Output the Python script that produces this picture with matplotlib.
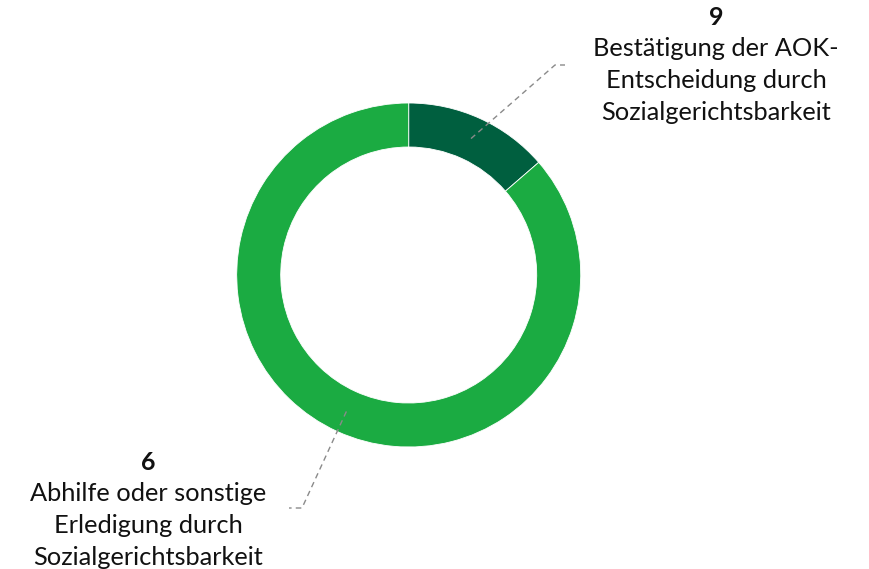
import numpy as np
import matplotlib.pyplot as plt

# slice sizes (dark slice ~49 deg of 360)
sizes = [9, 57]
numbers = ['9', '6']
labels = ['Bestätigung der AOK-\nEntscheidung durch\nSozialgerichtsbarkeit',
          'Abhilfe oder sonstige\nErledigung durch\nSozialgerichtsbarkeit']
colors = ['#005F3F', '#1BAB42']

W, H = 869, 569
fig = plt.figure(figsize=(W / 100, H / 100), dpi=100)
ax = fig.add_axes([0, 0, 1, 1])

cx, cy, r = 408.7, H - 275, 172
wedges, _ = ax.pie(sizes, colors=colors, startangle=90, counterclock=False,
                   radius=r, center=(cx, cy),
                   wedgeprops=dict(width=44, edgecolor='white', linewidth=0.6))
ax.set_xlim(0, W)
ax.set_ylim(0, H)
ax.set_aspect('equal')
ax.axis('off')

# label layout: text centre, elbow of leader, end of leader
text_pos = [(716, H - 17), (148, H - 462)]
elbows = [((555, H - 65), (565, H - 65)), ((302, H - 508), (289, H - 508))]

for w, num, lab, (tx, ty), (e1, e2) in zip(wedges, numbers, labels, text_pos, elbows):
    mid = np.deg2rad((w.theta1 + w.theta2) / 2)
    sx = cx + 150 * np.cos(mid)
    sy = cy + 150 * np.sin(mid)
    ax.plot([sx, e1[0], e2[0]], [sy, e1[1], e2[1]], color='#8a8a8a',
            lw=1, ls=(0, (4, 3)))
    ax.text(tx, ty, num, ha='center', va='center', fontsize=18,
            fontweight='bold', family='Lato', color='#111111')
    ax.text(tx, ty - 20, lab, ha='center', va='top', fontsize=18.3,
            family='Lato', color='#111111', linespacing=1.47)

fig.savefig('out.png', dpi=100)
